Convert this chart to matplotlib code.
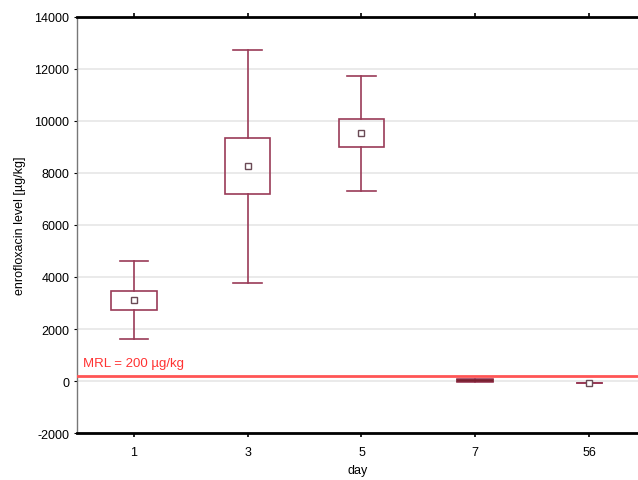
import matplotlib
matplotlib.use("Agg")
import matplotlib.pyplot as plt
from matplotlib.patches import Rectangle

plt.rcParams['font.family'] = ['Liberation Sans', 'DejaVu Sans']

days = ["1", "3", "5", "7", "56"]
means = [3110, 8270, 9540, 20, -80]
box_lo = [2730, 7190, 9000, -10, -80]
box_hi = [3460, 9346, 10077, 50, -80]
whisk_lo = [1615, 3770, 7310, -20, -80]
whisk_hi = [4615, 12730, 11730, 60, -80]
mrl = 200
yticks = [-2000, 0, 2000, 4000, 6000, 8000, 10000, 12000, 14000]

# drawing styles (not data)
box_w = [0.4, 0.4, 0.4, 0.32, 0.22]
cap_w = [0.25, 0.25, 0.25, 0.32, 0.22]
show_mean = [True, True, True, False, True]

col = '#9a3b57'
fig = plt.figure(figsize=(6.38, 4.81), dpi=100)
ax = fig.add_axes([0.1207, 0.0977, 0.8793, 0.8649])

for y in yticks:
    ax.axhline(y, color='#e6e6e6', lw=1.2, zorder=0)

for i in range(len(days)):
    bw, cw = box_w[i], cap_w[i]
    ax.plot([i, i], [whisk_lo[i], box_lo[i]], color=col, lw=1.2, zorder=2)
    ax.plot([i, i], [box_hi[i], whisk_hi[i]], color=col, lw=1.2, zorder=2)
    ax.plot([i - cw/2, i + cw/2], [whisk_lo[i]] * 2, color=col, lw=1.2, zorder=2)
    ax.plot([i - cw/2, i + cw/2], [whisk_hi[i]] * 2, color=col, lw=1.2, zorder=2)
    filled = not show_mean[i]
    ax.add_patch(Rectangle((i - bw/2, box_lo[i]), bw, box_hi[i] - box_lo[i],
                           fill=filled, facecolor='#7a1f30', edgecolor=col if not filled else '#7a1f30',
                           lw=1.2, zorder=5 if filled else 2))
    if show_mean[i]:
        ax.plot(i, means[i], marker='s', ms=5, mfc='white', mec='#6a4a55', mew=1.0, zorder=6)

ax.axhline(mrl, color='#ff5555', lw=2, zorder=4)
ax.text(-0.45, mrl + 250, "MRL = 200 µg/kg", color='#ff3333', fontsize=9.5, va='bottom', ha='left')

ax.set_xlim(-0.5, 4.43)
ax.set_ylim(-2000, 14000)
ax.set_xticks(range(len(days)))
ax.set_xticklabels(days, fontsize=9)
ax.set_yticks(yticks)
ax.set_yticklabels([str(v) for v in yticks], fontsize=9)
ax.tick_params(axis='x', direction='out', length=3, width=1.2, pad=6, top=True)
ax.tick_params(axis='y', direction='out', length=2, width=0.8, colors='black')
ax.set_xlabel("day", fontsize=9, labelpad=5)
ax.set_ylabel("enrofloxacin level [µg/kg]", fontsize=9, labelpad=6)

ax.spines['top'].set_linewidth(2)
ax.spines['bottom'].set_linewidth(2)
ax.spines['left'].set_linewidth(1)
ax.spines['left'].set_color('#777777')
ax.spines['right'].set_visible(False)

fig.savefig("out.png", dpi=100)
